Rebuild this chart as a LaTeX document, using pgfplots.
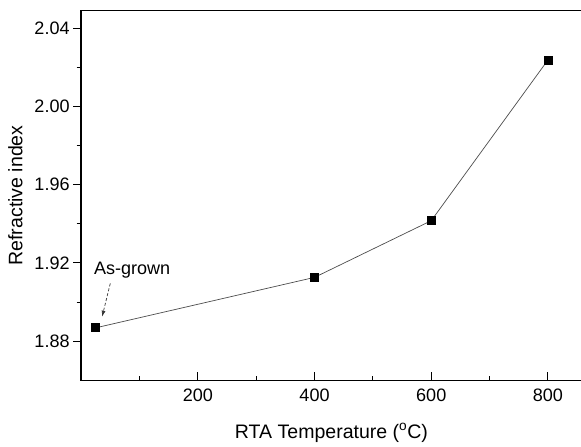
\documentclass[border=0pt]{standalone}
\usepackage{pgfplots}
\pgfplotsset{compat=1.18}
\usepackage{fontspec}
\setmainfont{Liberation Sans}
\usetikzlibrary{calc,arrows.meta}
\begin{document}
\begin{tikzpicture}
\begin{axis}[name=ax, scale only axis, width=500pt, height=369pt,
  xmin=0, xmax=858, ymin=1.86, ymax=2.049,
  xtick={200,400,600,800}, minor xtick={100,300,500,700},
  ytick={1.88,1.92,1.96,2.00,2.04}, minor ytick={1.90,1.94,1.98,2.02},
  yticklabel style={/pgf/number format/fixed, /pgf/number format/fixed zerofill, /pgf/number format/precision=2},
  /pgf/number format/assume math mode=true,
  xtick pos=bottom, ytick pos=left,
  xtick align=inside, ytick align=outside,
  major tick length=8pt, minor tick length=4.5pt,
  every tick/.style={line width=1pt, black},
  axis line style={line width=1.3pt},
  ticklabel style={font=\fontsize{18}{21}\selectfont},
  xticklabel style={yshift=-5pt},
  label style={font=\fontsize{19.5}{23}\selectfont},
  xlabel={RTA Temperature (\textsuperscript{o}C)},
  ylabel={Refractive index},
  xlabel shift=15pt, ylabel shift=5pt,
]
\addplot[black!70, line width=0.7pt, mark=square*, mark size=4pt, mark options={solid, fill=black, draw=black}]
  coordinates {(25,1.8868) (400,1.9126) (600,1.9416) (800,2.0238)};
\draw[densely dashed, black!80, line width=0.7pt, -{Latex[length=6pt,width=4pt]}] (axis cs:50,1.9095) -- (axis cs:36,1.8925);
\node[font=\fontsize{18}{21}\selectfont, anchor=west, inner sep=0pt] at (axis cs:22,1.9165) {As-grown};
\end{axis}
\pgfresetboundingbox
\path ($(ax.south west)+(-81pt,-66pt)$) rectangle ($(ax.north east)+(-0.8pt,10.7pt)$);
\end{tikzpicture}
\end{document}
